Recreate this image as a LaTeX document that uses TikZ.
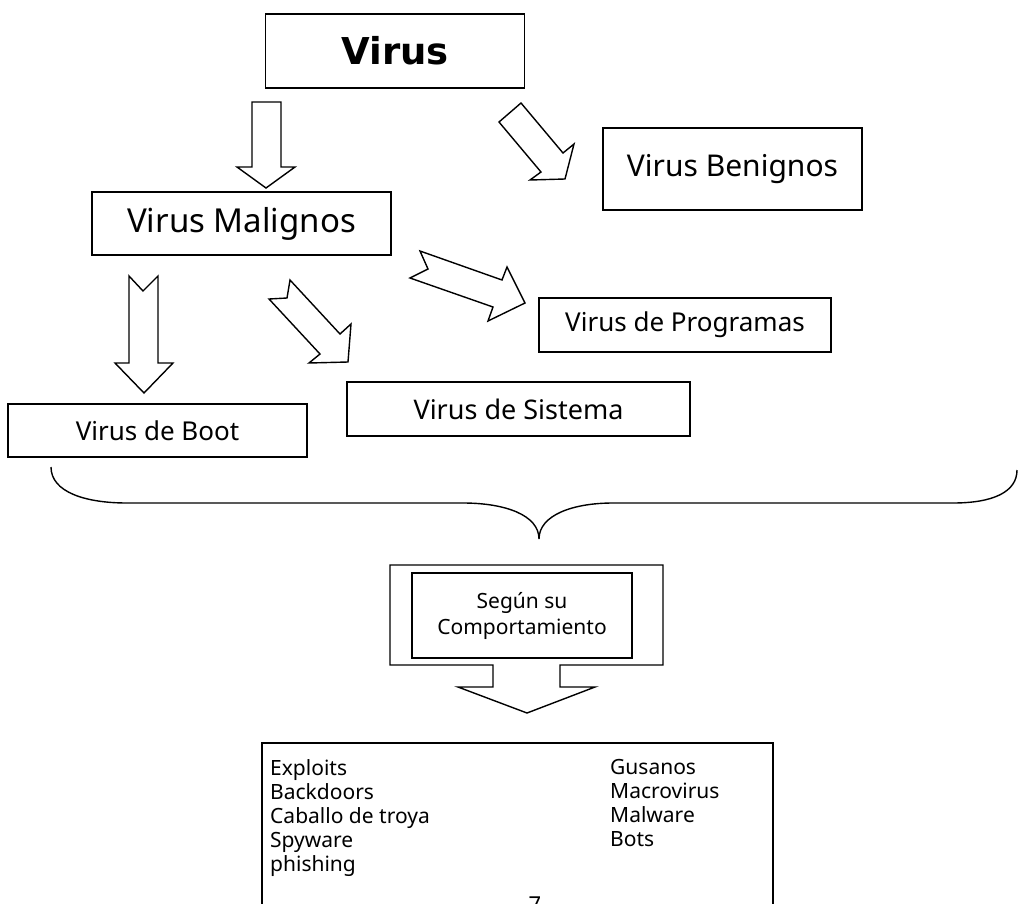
\documentclass[tikz,border=0pt]{standalone}
\usepackage{fontspec}
\setmainfont{Noto Sans}
\newfontfamily\djvfont{DejaVu Sans}
\begin{document}
\begin{tikzpicture}[x=1pt,y=-1pt,
  box/.style={draw,line width=1.4pt,inner sep=0pt,align=center},
  blk/.style={draw,line width=1.4pt,line join=miter,fill=white},
  ftA/.style={font=\djvfont\bfseries\fontsize{37}{44}\selectfont},
  ftB/.style={font=\fontsize{33}{38}\selectfont},
  ftC/.style={font=\fontsize{30}{36}\selectfont},
  ftD/.style={font=\fontsize{26}{31}\selectfont},
  ftE/.style={font=\fontsize{21}{26}\selectfont},
  ftL/.style={font=\fontsize{21}{24}\selectfont,align=left,inner sep=0pt}]
\useasboundingbox[fill=white] (0,0) rectangle (1018,903);

% boxes
\node[box,ftA,minimum width=259pt,minimum height=74pt] (virus) at (395,51) {Virus};
\node[box,ftB,minimum width=299pt,minimum height=63pt] (malig) at (241.5,223.5) {Virus Malignos};
\node[box,ftC,minimum width=259pt,minimum height=82pt] (benig) at (732.5,169) {Virus Benignos};
\node[box,ftD,minimum width=292pt,minimum height=54pt] (prog) at (685,325) {\raisebox{-2pt}{Virus de Programas}};
\node[box,ftD,minimum width=343pt,minimum height=54pt,font=\fontsize{27}{31}\selectfont] (sist) at (518.5,409) {\raisebox{-3pt}{Virus de Sistema}};
\node[box,ftD,minimum width=299pt,minimum height=53pt] (boot) at (157.5,430.5) {\raisebox{-4pt}{Virus de Boot}};

% block arrows
\draw[blk] (252,102) -- (281,102) -- (281,167) -- (295,167) -- (266,188) -- (237,167) -- (252,167) -- cycle;
\draw[blk] (521,103) -- (563,153) -- (574,144) -- (565,179) -- (530,180) -- (541,172) -- (499,122) -- cycle;
\draw[blk] (129,276) -- (143,291) -- (158,276) -- (158,363) -- (173,363) -- (144,393) -- (115,363) -- (129,363) -- cycle;
\draw[blk] (269,299) -- (287,298) -- (290,280) -- (340,334) -- (351,324) -- (348,362) -- (309,363) -- (320,354) -- cycle;
\draw[blk] (420,251) -- (502,280) -- (507,267) -- (525,303) -- (488,321) -- (493,307) -- (410,278) -- (428,269) -- cycle;

% brace
\draw[line width=1.4pt] (51,467) .. controls (51,492) and (85,503) .. (127,503) -- (463,503)
  .. controls (505,503) and (539,515) .. (539,539)
  .. controls (539,515) and (573,503) .. (613,503) -- (953,503)
  .. controls (993,503) and (1017,492) .. (1017,470);

% callout with down arrow
\draw[blk] (390,565) -- (663,565) -- (663,665) -- (560,665) -- (560,687) -- (595,687) -- (527,713)
  -- (458,687) -- (493,687) -- (493,665) -- (390,665) -- cycle;
\node[box,ftE,minimum width=220pt,minimum height=85pt] (comp) at (522,615.5) {Según su\\Comportamiento};

% bottom list
\draw[line width=1.4pt] (262,930) -- (262,743) -- (773,743) -- (773,930);
\coordinate (listtl) at (270,759);
\node[ftL,anchor=north west] (left) at (listtl) {Exploits\\Backdoors\\Caballo de troya\\Spyware\\phishing};
\node[ftL,anchor=north west] (right) at (610,759) {Gusanos\\Macrovirus\\Malware\\Bots};
\node[font=\fontsize{22}{26}\selectfont,anchor=north,inner sep=0pt] (pg) at (535,897) {7};
\end{tikzpicture}
\end{document}
